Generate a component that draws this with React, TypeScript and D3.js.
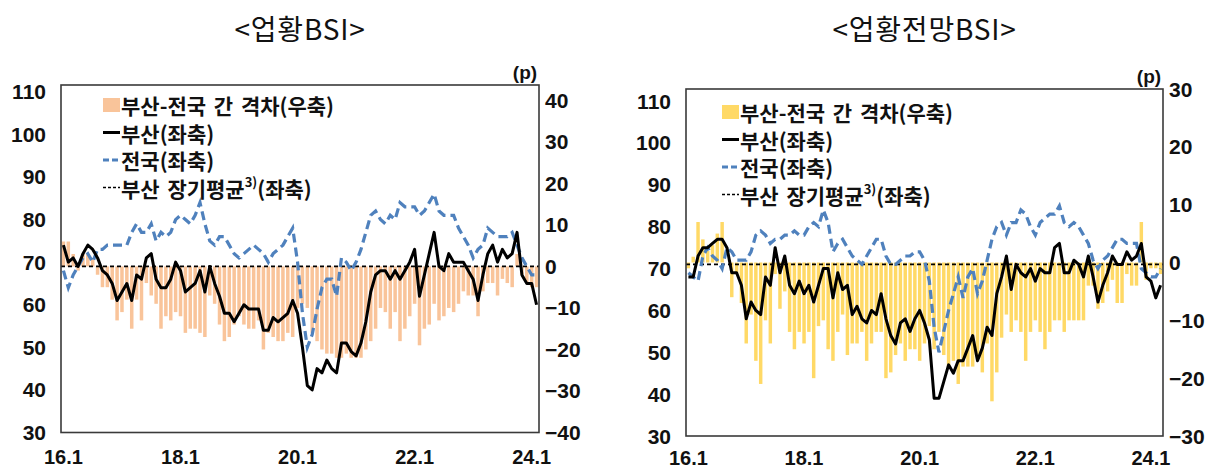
import * as d3 from "d3"

// <업황BSI> : 2016.1 ~ 2024.2
const busanNow = [74, 70, 71, 69, 72, 74, 73, 71, 68, 67, 65, 61, 63, 65, 61, 67, 66, 71, 72, 66, 64, 64, 66, 70, 68, 63, 64, 65, 68, 63, 69, 65, 62, 58, 58, 56, 58, 60, 59, 59, 59, 54, 54, 57, 56, 57, 58, 61, 58, 50, 41, 40, 45, 44, 47, 45, 44, 51, 51, 49, 48, 51, 56, 63, 67, 68, 68, 66, 68, 66, 68, 70, 73, 62, 67, 72, 77, 69, 68, 72, 70, 70, 70, 68, 66, 61, 67, 72, 74, 70, 73, 71, 72, 77, 67, 65, 65, 60]
const nationNow = [68, 64, 67, 69, 71, 72, 70, 73, 73, 74, 74, 74, 74, 74, 77, 79, 77, 77, 79, 75, 77, 76, 77, 80, 81, 80, 79, 81, 84, 79, 75, 74, 76, 76, 74, 72, 71, 72, 73, 74, 73, 72, 70, 72, 73, 74, 76, 78, 70, 58, 50, 53, 59, 64, 66, 66, 62, 71, 70, 68, 70, 73, 77, 81, 82, 80, 79, 81, 80, 84, 83, 83, 83, 81, 82, 84, 86, 82, 81, 81, 81, 78, 76, 74, 71, 73, 74, 78, 77, 76, 76, 76, 77, 74, 71, 69, 67, 67]
const gapNow = [6, 6, 3, -1, 3, 3, 2, -2, -5, -5, -8, -13, -11, -8, -15, -8, -13, -4, -7, -9, -15, -12, -13, -11, -12, -16, -15, -15, -16, -17, -7, -9, -14, -18, -17, -14, -12, -14, -15, -15, -13, -20, -16, -17, -18, -18, -16, -17, -10, -9, -10, -16, -18, -20, -21, -21, -22, -22, -21, -22, -22, -22, -20, -18, -15, -10, -11, -15, -11, -18, -15, -12, -9, -19, -15, -14, -9, -13, -12, -10, -11, -9, -6, -7, -7, -12, -6, -4, -4, -7, -3, -4, -5, 3, -2, -4, -5, -5]
const busanAvgNow = 69

// <업황전망BSI> : 2016.1 ~ 2024.3
const busanOut = [68, 68, 73, 75, 75, 76, 77, 77, 75, 69, 69, 66, 58, 62, 60, 59, 68, 66, 75, 69, 73, 66, 64, 67, 64, 66, 62, 66, 70, 70, 63, 69, 65, 66, 59, 61, 58, 57, 60, 59, 64, 58, 54, 52, 57, 58, 55, 58, 60, 57, 53, 39, 39, 43, 47, 45, 48, 48, 51, 54, 48, 51, 56, 54, 64, 68, 73, 65, 71, 69, 68, 70, 67, 70, 69, 69, 75, 76, 69, 69, 72, 71, 68, 73, 68, 62, 66, 69, 73, 71, 71, 74, 72, 73, 76, 68, 67, 63, 66]
const nationOut = [69, 68, 67, 73, 75, 73, 72, 70, 75, 74, 72, 72, 72, 74, 78, 79, 78, 76, 77, 77, 78, 78, 79, 78, 78, 80, 81, 80, 84, 81, 74, 76, 77, 75, 73, 72, 71, 73, 75, 77, 77, 73, 71, 71, 72, 73, 73, 74, 74, 72, 67, 56, 50, 55, 60, 64, 68, 63, 68, 70, 64, 67, 72, 77, 80, 81, 78, 81, 81, 84, 83, 80, 78, 81, 82, 83, 83, 85, 81, 80, 81, 80, 78, 76, 72, 70, 72, 73, 75, 77, 77, 76, 76, 76, 70, 69, 68, 68, 70]
const gapOut = [-1, 1, 7, 4, 2, 3, 5, 7, 0, -6, -2, -7, -14, -9, -17, -21, -10, -14, -2, -8, -5, -12, -15, -12, -14, -12, -20, -11, -10, -15, -17, -12, -9, -16, -14, -14, -12, -17, -14, -12, -12, -20, -19, -16, -14, -17, -15, -15, -17, -14, -11, -15, -12, -16, -18, -17, -21, -18, -18, -18, -16, -19, -14, -24, -19, -13, -9, -12, -10, -12, -17, -12, -10, -12, -15, -12, -10, -10, -12, -10, -10, -10, -10, -4, -4, -8, -7, -5, -3, -7, -7, -2, -4, -4, 7, -3, -1, -1, -2]
const busanAvgOut = 71

const leftTicks = [30, 40, 50, 60, 70, 80, 90, 100, 110]
const rightTicksNow = [40, 30, 20, 10, 0, -10, -20, -30, -40]
const rightTicksOut = [30, 20, 10, 0, -10, -20, -30]
const xTickLabels = ["16.1", "18.1", "20.1", "22.1", "24.1"]

const legendGap = "부산-전국 간 격차(우축)"
const legendBusan = "부산(좌축)"
const legendNation = "전국(좌축)"
const legendAvg = "부산 장기평균"

const numFont = "'Liberation Sans', Arial, sans-serif"
const korFont = "'Noto Sans CJK KR', 'Noto Sans', sans-serif"

function monthKeys(n: number) {
  const out: string[] = []
  for (let i = 0; i < n; i++) {
    out.push(`${16 + Math.floor(i / 12)}.${(i % 12) + 1}`)
  }
  return out
}

type PanelProps = {
  title: string
  busan: number[]
  nation: number[]
  gap: number[]
  avg: number
  barColor: string
  x0: number
  x1: number
  y0: number
  y1: number
  leftMax: number
  rightDomain: [number, number]
  rightTicks: number[]
  legendX: number
  legendY: number
}

const Panel = (p: PanelProps) => {
  const keys = monthKeys(p.busan.length)
  const x = d3.scaleBand().domain(keys).range([p.x0, p.x1]).paddingInner(0.28).paddingOuter(0.14)
  const xc = (i: number) => (x(keys[i]) || 0) + x.bandwidth() / 2
  const yL = d3.scaleLinear().domain([30, p.leftMax]).range([p.y1, p.y0])
  const yR = d3.scaleLinear().domain(p.rightDomain).range([p.y1, p.y0])

  const line = d3
    .line<number>()
    .x((_, i) => xc(i))
    .y((d) => yL(d))

  const lx = p.legendX
  const ly = p.legendY
  const rowH = 27.5

  return (
    <g>
      <text x={(p.x0 + p.x1) / 2} y={28} textAnchor="middle" dominantBaseline="central" fontFamily={korFont} fontSize={28} letterSpacing={0.8} fill="#111">
        {p.title}
      </text>
      <text x={p.x1 - 14} y={p.y0 - 6} textAnchor="middle" fontFamily={numFont} fontWeight="bold" fontSize={19} fill="#111">
        (p)
      </text>

      {/* bars on right axis */}
      {p.gap.map((d, i) => (
        <rect
          key={i}
          x={x(keys[i])}
          y={Math.min(yR(0), yR(d))}
          width={x.bandwidth()}
          height={Math.abs(yR(d) - yR(0))}
          fill={p.barColor}
        />
      ))}

      {/* long-term average */}
      <line x1={p.x0} x2={p.x1} y1={yL(p.avg)} y2={yL(p.avg)} stroke="#000" strokeWidth={1.6} strokeDasharray="4,3" />

      <path d={line(p.nation) || ""} fill="none" stroke="#4F81BD" strokeWidth={3.2} strokeDasharray="9,5" />
      <path d={line(p.busan) || ""} fill="none" stroke="#000" strokeWidth={3} strokeLinejoin="round" />

      {/* frame */}
      <rect x={p.x0} y={p.y0} width={p.x1 - p.x0} height={p.y1 - p.y0} fill="none" stroke="#3a3a3a" strokeWidth={1.6} />

      {/* left axis */}
      {leftTicks.map((t) => (
        <text key={t} x={p.x0 - 15} y={yL(t)} textAnchor="end" dominantBaseline="central" fontFamily={numFont} fontWeight="bold" fontSize={21} fill="#111">
          {t}
        </text>
      ))}
      {/* right axis */}
      {p.rightTicks.map((t) => (
        <text key={t} x={p.x1 + 6} y={yR(t)} textAnchor="start" dominantBaseline="central" fontFamily={numFont} fontWeight="bold" fontSize={21} fill="#111">
          {t < 0 ? `−${-t}` : t}
        </text>
      ))}
      {/* x axis */}
      {xTickLabels.map((t) => (
        <text key={t} x={xc(keys.indexOf(t))} y={Math.min(p.y1 + 31, 465)} textAnchor="middle" fontFamily={numFont} fontWeight="bold" fontSize={20} fill="#111">
          {t}
        </text>
      ))}

      {/* legend */}
      <g fontFamily={korFont} fontWeight="bold" fontSize={21} fill="#111">
        <rect x={lx} y={ly - 7} width={17} height={14} fill={p.barColor} />
        <text x={lx + 18} y={ly} dominantBaseline="central" wordSpacing={3}>{legendGap}</text>
        <line x1={lx} x2={lx + 17} y1={ly + rowH} y2={ly + rowH} stroke="#000" strokeWidth={3} />
        <text x={lx + 18} y={ly + rowH} dominantBaseline="central">{legendBusan}</text>
        <line x1={lx} x2={lx + 17} y1={ly + rowH * 2} y2={ly + rowH * 2} stroke="#4F81BD" strokeWidth={3} strokeDasharray="6,3" />
        <text x={lx + 18} y={ly + rowH * 2} dominantBaseline="central">{legendNation}</text>
        <line x1={lx} x2={lx + 17} y1={ly + rowH * 3} y2={ly + rowH * 3} stroke="#000" strokeWidth={1.5} strokeDasharray="3,2" />
        <text x={lx + 18} y={ly + rowH * 3} dominantBaseline="central" wordSpacing={3}>
          {legendAvg}
          <tspan fontSize={13} dy={-7}>3)</tspan>
          <tspan dy={7}>(좌축)</tspan>
        </text>
      </g>
    </g>
  )
}

export default function App() {
  return (
    <svg width={1226} height={468} style={{ position: "absolute", left: 0, top: 0, background: "#fff" }}>
      <Panel
        title="<업황BSI>"
        busan={busanNow}
        nation={nationNow}
        gap={gapNow}
        avg={busanAvgNow}
        barColor="#F9C49A"
        x0={61}
        x1={539}
        y0={85}
        y1={432.5}
        leftMax={111.6}
        rightDomain={[-40, 43.7]}
        rightTicks={rightTicksNow}
        legendX={103}
        legendY={105}
      />
      <Panel
        title="<업황전망BSI>"
        busan={busanOut}
        nation={nationOut}
        gap={gapOut}
        avg={busanAvgOut}
        barColor="#FFD966"
        x0={686}
        x1={1163}
        y0={89}
        y1={436}
        leftMax={112.9}
        rightDomain={[-30, 30]}
        rightTicks={rightTicksOut}
        legendX={722}
        legendY={112}
      />
    </svg>
  )
}
